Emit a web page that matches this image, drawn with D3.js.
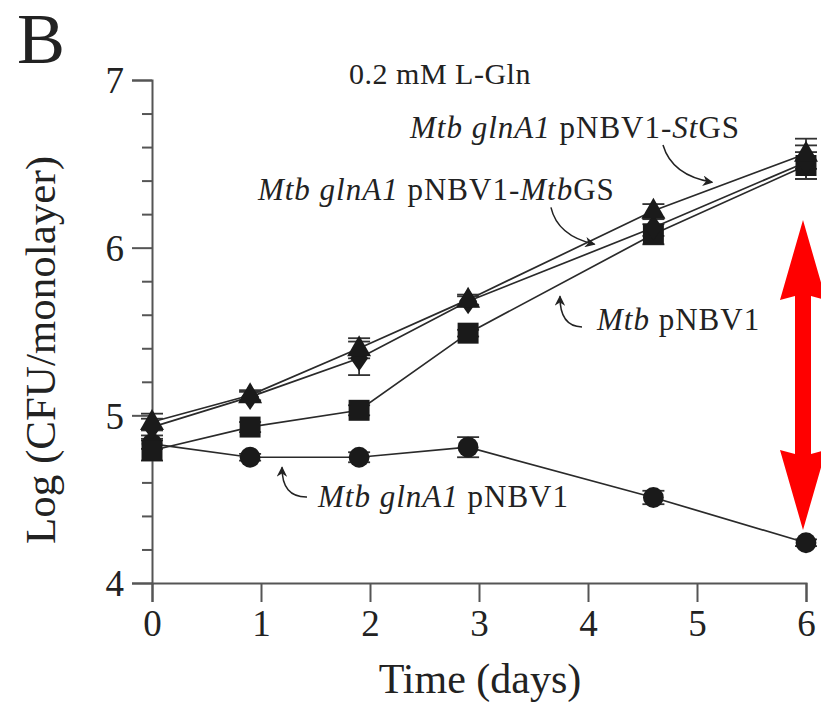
<!DOCTYPE html>
<html>
<head>
<meta charset="utf-8">
<script src="https://cdn.jsdelivr.net/npm/d3@7"></script>
<style>
  body { margin: 0; background: #fff; }
  svg text { font-family: "Liberation Serif", "Times New Roman", serif; fill: #222; }
</style>
</head>
<body>
<div id="chart"></div>
<script>
// data (x = days, y = log CFU/monolayer)
const days = [0, 0.9, 1.9, 2.9, 4.6, 6];
const glnA1Vals = [4.83, 4.75, 4.75, 4.81, 4.51, 4.24];
const glnA1Errs = [0.03, 0.02, 0.03, 0.06, 0.04, 0.02];
const wtVals = [4.79, 4.93, 5.03, 5.49, 6.08, 6.49];
const wtErrs = [0.06, 0.03, 0.03, 0.02, 0.06, 0.08];
const stgsVals = [4.96, 5.12, 5.40, 5.69, 6.22, 6.56];
const stgsErrs = [0.05, 0.03, 0.06, 0.03, 0.04, 0.09];
const mtbgsVals = [4.93, 5.11, 5.34, 5.68, 6.12, 6.51];
const mtbgsErrs = [0.05, 0.03, 0.10, 0.03, 0.05, 0.10];
const xTicks = [0, 1, 2, 3, 4, 5, 6];
const yTicks = [4, 5, 6, 7];

const W = 821, H = 703;

var svg = d3.select("#chart").append("svg")
    .attr("width", W)
    .attr("height", H);

var x = d3.scaleLinear().domain([0, 6]).range([152, 806]);
var y = d3.scaleLinear().domain([4, 7]).range([583, 80]);

// axes
var xAxis = svg.append("g")
    .attr("transform", `translate(0,${y(4)})`)
    .call(d3.axisBottom(x).tickValues(xTicks).tickSize(19).tickPadding(8).tickFormat(d3.format("d")));

var yMinor = svg.append("g")
    .attr("transform", `translate(${x(0)},0)`)
    .call(d3.axisLeft(y).tickValues(d3.range(4.2, 7, 0.2).filter(v => Math.abs(v - Math.round(v)) > 0.01)).tickSize(10).tickFormat(""));
yMinor.select(".domain").remove();

var yAxis = svg.append("g")
    .attr("transform", `translate(${x(0)},0)`)
    .call(d3.axisLeft(y).tickValues(yTicks).tickSize(20).tickPadding(8).tickFormat(d3.format("d")));

svg.selectAll(".domain, .tick line").attr("stroke", "#555").attr("stroke-width", 2);
xAxis.selectAll("text").attr("font-size", 37).attr("fill", "#222");
yAxis.selectAll("text").attr("font-size", 37).attr("fill", "#222").attr("dy", "0.35em");

// titles
svg.append("text").attr("x", 17).attr("y", 63).attr("font-size", 72).text("B");
svg.append("text").attr("x", 440).attr("y", 84).attr("text-anchor", "middle")
    .attr("font-size", 30).attr("letter-spacing", 0.5).text("0.2 mM L-Gln");
svg.append("text").attr("x", 480).attr("y", 693).attr("text-anchor", "middle")
    .attr("font-size", 42).text("Time (days)");
svg.append("text")
    .attr("transform", `translate(55,350) rotate(-90)`)
    .attr("text-anchor", "middle")
    .attr("font-size", 43)
    .text("Log (CFU/monolayer)");

// series
var series = [
  { vals: glnA1Vals, errs: glnA1Errs, shape: "circle" },
  { vals: wtVals, errs: wtErrs, shape: "square" },
  { vals: mtbgsVals, errs: mtbgsErrs, shape: "diamond" },
  { vals: stgsVals, errs: stgsErrs, shape: "triangle" }
];

var line = d3.line().x(d => x(d.day)).y(d => y(d.v));
var ink = "#1a1a1a";

series.forEach(s => {
  var pts = days.map((d, i) => ({ day: d, v: s.vals[i], e: s.errs[i] }));
  svg.append("path").datum(pts)
      .attr("d", line)
      .attr("fill", "none")
      .attr("stroke", "#2a2a2a")
      .attr("stroke-width", 1.7);
  s.pts = pts;
});

series.forEach(s => {
  var eg = svg.append("g").attr("stroke", "#333").attr("stroke-width", 1.8);
  s.pts.forEach(p => {
    eg.append("line").attr("x1", x(p.day)).attr("x2", x(p.day))
        .attr("y1", y(p.v - p.e)).attr("y2", y(p.v + p.e));
    [p.v - p.e, p.v + p.e].forEach(v => {
      eg.append("line").attr("x1", x(p.day) - 11).attr("x2", x(p.day) + 11)
          .attr("y1", y(v)).attr("y2", y(v));
    });
  });
});

function shapePath(shape) {
  if (shape === "circle") return d3.symbol().type(d3.symbolCircle).size(340)();
  if (shape === "square") return d3.symbol().type(d3.symbolSquare).size(440)();
  if (shape === "triangle") return "M0,-13L12,8L-12,8Z";
  return "M0,-13L9,0L0,13L-9,0Z";
}

series.forEach(s => {
  svg.append("g").selectAll("path")
    .data(s.pts)
    .join("path")
      .attr("transform", d => `translate(${x(d.day)},${y(d.v)})`)
      .attr("d", shapePath(s.shape))
      .attr("fill", ink);
});

// annotation labels with curved pointer arrows (positions in data units)
var labels = [
  { day: 2.367, v: 6.654, parts: [["Mtb glnA1", true], [" pNBV1-", false], ["St", true], ["GS", false]],
    arrow: [[4.688, 6.612], [4.77, 6.43], [5.14, 6.39]] },
  { day: 0.972, v: 6.284, parts: [["Mtb glnA1", true], [" pNBV1-", false], ["Mtb", true], ["GS", false]],
    arrow: [[3.66, 6.24], [3.72, 6.07], [4.06, 6.02]] },
  { day: 4.083, v: 5.509, parts: [["Mtb", true], [" pNBV1", false]],
    arrow: [[3.945, 5.527], [3.74, 5.53], [3.743, 5.71]] },
  { day: 1.523, v: 4.453, parts: [["Mtb glnA1", true], [" pNBV1", false]],
    arrow: [[1.422, 4.513], [1.19, 4.51], [1.193, 4.69]] }
];

svg.append("defs").append("marker")
    .attr("id", "head")
    .attr("viewBox", "0 -5 10 10")
    .attr("refX", 9).attr("refY", 0)
    .attr("markerWidth", 7).attr("markerHeight", 7)
    .attr("orient", "auto")
  .append("path").attr("d", "M0,-5L10,0L0,5L3,0Z").attr("fill", "#222");

labels.forEach(l => {
  var t = svg.append("text").attr("x", x(l.day)).attr("y", y(l.v))
      .attr("font-size", 31).attr("letter-spacing", 1);
  l.parts.forEach(p => t.append("tspan").attr("font-style", p[1] ? "italic" : "normal").text(p[0]));
  var a = l.arrow;
  svg.append("path")
      .attr("d", `M${x(a[0][0])},${y(a[0][1])}Q${x(a[1][0])},${y(a[1][1])} ${x(a[2][0])},${y(a[2][1])}`)
      .attr("fill", "none")
      .attr("stroke", "#222")
      .attr("stroke-width", 1.5)
      .attr("marker-end", "url(#head)");
});

// red double-headed arrow at day 6
var ax = x(6) - 3, aTop = y(6.165), aBot = y(4.316);
var sw = 8, hw = 23, hl = 80;
svg.append("path")
    .attr("d", `M${ax},${aTop}L${ax + hw},${aTop + hl}L${ax + sw},${aTop + hl - 4}L${ax + sw},${aBot - hl + 4}` +
               `L${ax + hw},${aBot - hl}L${ax},${aBot}L${ax - hw},${aBot - hl}L${ax - sw},${aBot - hl + 4}` +
               `L${ax - sw},${aTop + hl - 4}L${ax - hw},${aTop + hl}Z`)
    .attr("fill", "#ff0000");
</script>
</body>
</html>
